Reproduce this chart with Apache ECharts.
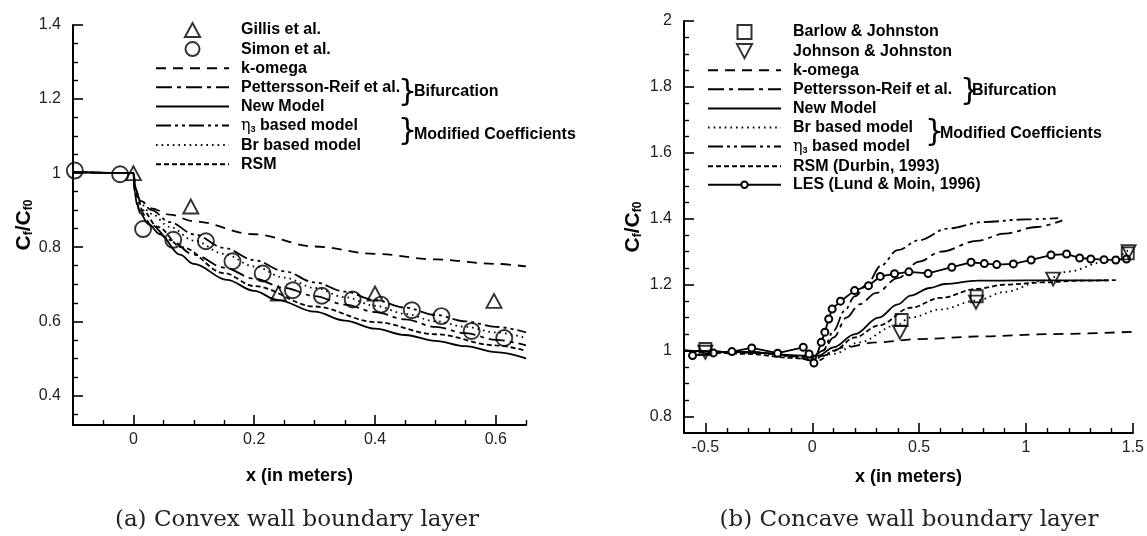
<!DOCTYPE html>
<html>
<head>
<meta charset="utf-8">
<script src="https://cdn.jsdelivr.net/npm/echarts@6/dist/echarts.min.js"></script>
<style>
  html, body { margin: 0; padding: 0; background: #fff; }
  #chart { width: 1147px; height: 536px; }
</style>
</head>
<body>
<div id="chart"></div>
<script>
// ---------- (a) convex wall: skin friction ratio vs x ----------
const convexGillis = [[0, 1.0], [0.095, 0.91], [0.24, 0.675], [0.4, 0.675], [0.597, 0.655]];
const convexSimon = [[-0.097, 1.007], [-0.022, 0.997], [0.016, 0.849], [0.066, 0.82], [0.12, 0.816],
  [0.164, 0.762], [0.214, 0.729], [0.264, 0.684], [0.312, 0.669], [0.363, 0.659], [0.41, 0.645],
  [0.461, 0.63], [0.51, 0.614], [0.56, 0.574], [0.614, 0.555]];
const convexKOmega = [[-0.1, 1.003], [0, 1.0], [0.003, 0.95], [0.012, 0.925], [0.03, 0.905], [0.06, 0.888],
  [0.1, 0.87], [0.2, 0.835], [0.3, 0.802], [0.4, 0.782], [0.5, 0.767], [0.6, 0.755], [0.65, 0.748]];
const convexPR = [[-0.1, 1.003], [0, 1.0], [0.003, 0.95], [0.01, 0.9], [0.03, 0.86], [0.06, 0.82],
  [0.1, 0.78], [0.15, 0.745], [0.2, 0.715], [0.25, 0.69], [0.3, 0.668], [0.35, 0.645], [0.4, 0.625],
  [0.45, 0.605], [0.5, 0.585], [0.55, 0.568], [0.6, 0.55], [0.65, 0.535]];
const convexNew = [[-0.1, 1.003], [0, 1.0], [0.002, 0.95], [0.006, 0.915], [0.011, 0.892], [0.025, 0.862],
  [0.044, 0.835], [0.077, 0.78], [0.1, 0.755], [0.155, 0.712], [0.2, 0.682], [0.238, 0.658],
  [0.3, 0.626], [0.35, 0.602], [0.4, 0.58], [0.45, 0.563], [0.5, 0.547], [0.55, 0.533], [0.6, 0.517], [0.65, 0.5]];
const convexEta = [[-0.1, 1.003], [0, 1.0], [0.003, 0.96], [0.01, 0.93], [0.03, 0.9], [0.06, 0.868],
  [0.1, 0.835], [0.15, 0.798], [0.2, 0.765], [0.25, 0.735], [0.3, 0.705], [0.35, 0.68], [0.4, 0.657],
  [0.45, 0.637], [0.5, 0.617], [0.55, 0.6], [0.6, 0.585], [0.65, 0.57]];
const convexBr = [[-0.1, 1.003], [0, 1.0], [0.003, 0.96], [0.01, 0.92], [0.03, 0.89], [0.06, 0.855],
  [0.1, 0.818], [0.15, 0.782], [0.2, 0.748], [0.25, 0.718], [0.3, 0.69], [0.35, 0.665], [0.4, 0.642],
  [0.45, 0.62], [0.5, 0.6], [0.55, 0.585], [0.6, 0.57], [0.65, 0.555]];
const convexRSM = [[-0.1, 1.003], [0, 1.0], [0.005, 0.95], [0.015, 0.9], [0.04, 0.855], [0.08, 0.8],
  [0.15, 0.73], [0.2, 0.695], [0.3, 0.64], [0.4, 0.598], [0.5, 0.565], [0.6, 0.535], [0.65, 0.52]];

// ---------- (b) concave wall ----------
const concaveBarlow = [[-0.5, 1.005], [0.418, 1.093], [0.769, 1.165], [1.476, 1.295]];
const concaveJohnson = [[-0.5, 0.995], [0.41, 1.056], [0.766, 1.147], [1.127, 1.217], [1.48, 1.3]];
const concaveKOmega = [[-0.6, 1.0], [-0.3, 0.995], [-0.1, 0.985], [0, 0.97], [0.05, 0.985], [0.15, 1.01],
  [0.3, 1.025], [0.5, 1.035], [0.8, 1.043], [1.1, 1.05], [1.5, 1.057]];
const concavePR = [[-0.6, 1.0], [-0.3, 0.995], [0, 0.98], [0.05, 1.0], [0.1, 1.04], [0.16, 1.1],
  [0.22, 1.14], [0.3, 1.175], [0.4, 1.22], [0.5, 1.27], [0.6, 1.3], [0.77, 1.333], [0.9, 1.355],
  [1.05, 1.375], [1.17, 1.395]];
const concaveNew = [[-0.6, 1.0], [-0.3, 0.995], [-0.05, 0.985], [0.03, 0.985], [0.1, 1.01], [0.2, 1.05],
  [0.31, 1.1], [0.4, 1.14], [0.46, 1.167], [0.55, 1.19], [0.62, 1.202], [0.77, 1.212], [1.0, 1.213], [1.38, 1.213]];
const concaveBr = [[-0.6, 1.0], [-0.3, 0.995], [0, 0.975], [0.1, 0.99], [0.22, 1.025], [0.39, 1.076],
  [0.46, 1.1], [0.6, 1.125], [0.77, 1.152], [0.9, 1.178], [1.08, 1.212], [1.2, 1.24], [1.36, 1.268], [1.49, 1.31]];
const concaveEta = [[-0.6, 1.0], [-0.3, 0.995], [0, 0.98], [0.05, 1.0], [0.1, 1.06], [0.15, 1.12],
  [0.2, 1.165], [0.26, 1.205], [0.32, 1.257], [0.4, 1.305], [0.5, 1.335], [0.63, 1.37], [0.8, 1.39],
  [1.0, 1.398], [1.15, 1.402]];
const concaveRSM = [[-0.6, 1.0], [-0.3, 0.99], [-0.1, 0.978], [0.03, 0.97], [0.1, 1.0], [0.2, 1.04],
  [0.31, 1.076], [0.46, 1.13], [0.6, 1.16], [0.77, 1.187], [0.9, 1.2], [1.08, 1.207], [1.25, 1.212], [1.42, 1.214]];
const concaveLES = [[-0.56, 0.985], [-0.463, 0.993], [-0.376, 0.997], [-0.283, 1.008], [-0.162, 0.992],
  [-0.042, 1.01], [-0.015, 0.99], [0.008, 0.962], [0.042, 1.025], [0.059, 1.056], [0.077, 1.096],
  [0.093, 1.126], [0.132, 1.15], [0.198, 1.182], [0.263, 1.197], [0.318, 1.225], [0.385, 1.233],
  [0.452, 1.239], [0.542, 1.234], [0.653, 1.253], [0.743, 1.268], [0.805, 1.264], [0.863, 1.261],
  [0.941, 1.263], [1.024, 1.275], [1.117, 1.29], [1.19, 1.293], [1.251, 1.281], [1.303, 1.278],
  [1.365, 1.276], [1.42, 1.275], [1.47, 1.278]];

// ---------- axis ticks ----------
const convexXTicks = [0, 0.2, 0.4, 0.6];
const convexYTicks = [0.4, 0.6, 0.8, 1, 1.2, 1.4];
const concaveXTicks = [-0.5, 0, 0.5, 1, 1.5];
const concaveYTicks = [0.8, 1, 1.2, 1.4, 1.6, 1.8, 2];

const ETA = 'η3 based model';

function minorTicks(from, to, step, majors) {
  const out = [];
  const n = Math.round((to - from) / step);
  for (let i = 0; i <= n; i++) {
    const v = Math.round((from + i * step) * 1000) / 1000;
    if (!majors.some(m => Math.abs(m - v) < 1e-6)) out.push(v);
  }
  return out;
}

const FONT = 'Liberation Sans, Arial, sans-serif';
const BLACK = '#000';
const LW = 1.8;

const dash = {
  komega: [10, 7],
  pr: [16, 5, 4, 5],
  eta: [15, 4, 3, 4, 3, 4],
  br: [1.6, 4],
  rsm: [5, 3]
};

// open marker outlines
const SYM_UP = 'path://M7,0 L14,13 L0,13 Z';
const SYM_DOWN = 'path://M0,0 L14,0 L7,13 Z';
const SYM_SQUARE = 'path://M0,0 L12,0 L12,12 L0,12 Z';

function lineSeries(name, data, axis, type, extra) {
  return Object.assign({
    type: 'line', name, data,
    xAxisIndex: axis, yAxisIndex: axis,
    showSymbol: false, symbol: 'none',
    smooth: 0.35, smoothMonotone: 'x',
    lineStyle: { color: BLACK, width: LW, type: type },
    itemStyle: { color: BLACK },
    z: 2
  }, extra || {});
}

function markerSeries(name, data, axis, symbol, size, extra) {
  return Object.assign({
    type: 'scatter', name, data,
    xAxisIndex: axis, yAxisIndex: axis,
    symbol, symbolSize: size, symbolKeepAspect: true,
    itemStyle: { color: 'rgba(255,255,255,0)', borderColor: BLACK, borderWidth: 1.9 },
    z: 5
  }, extra || {});
}

function mainXAxis(grid, min, max, ticks) {
  return {
    type: 'value', gridIndex: grid, min, max, position: 'bottom',
    axisLine: { show: true, onZero: false, lineStyle: { color: BLACK, width: 2 } },
    axisTick: { show: true, inside: true, length: 10, customValues: ticks, lineStyle: { color: BLACK, width: 1.6 } },
    axisLabel: { customValues: ticks, color: '#222', fontFamily: FONT, fontSize: 16, margin: 7 },
    splitLine: { show: false },
    name: 'x (in meters)', nameLocation: 'middle',
    nameTextStyle: { color: BLACK, fontFamily: FONT, fontWeight: 'bold', fontSize: 18 }
  };
}
function minorXAxis(grid, min, max, ticks) {
  return {
    type: 'value', gridIndex: grid, min, max, position: 'bottom',
    axisLine: { show: false, onZero: false },
    axisTick: { show: true, inside: true, length: 5, customValues: ticks, lineStyle: { color: BLACK, width: 1.4 } },
    axisLabel: { show: false }, splitLine: { show: false }
  };
}
const yName = '{c|C}{s|f}{c|/C}{s|f0}';
const yNameStyle = {
  color: BLACK, fontFamily: FONT, fontWeight: 'bold',
  rich: {
    c: { fontFamily: FONT, fontWeight: 'bold', fontSize: 21, color: BLACK },
    s: { fontFamily: FONT, fontWeight: 'bold', fontSize: 12, color: BLACK, padding: [10, 0, 0, 0] }
  }
};
function mainYAxis(grid, min, max, ticks) {
  return {
    type: 'value', gridIndex: grid, min, max, position: 'left',
    axisLine: { show: true, onZero: false, lineStyle: { color: BLACK, width: 2 } },
    axisTick: { show: true, inside: true, length: 10, customValues: ticks, lineStyle: { color: BLACK, width: 1.6 } },
    axisLabel: { customValues: ticks, color: '#222', fontFamily: FONT, fontSize: 16, margin: 12,
      formatter: v => String(Math.round(v * 100) / 100) },
    splitLine: { show: false },
    name: yName, nameLocation: 'middle', nameRotate: 90, nameTextStyle: yNameStyle
  };
}
function minorYAxis(grid, min, max, ticks) {
  return {
    type: 'value', gridIndex: grid, min, max, position: 'left',
    axisLine: { show: false, onZero: false },
    axisTick: { show: true, inside: true, length: 5, customValues: ticks, lineStyle: { color: BLACK, width: 1.4 } },
    axisLabel: { show: false }, splitLine: { show: false }
  };
}

const legendText = {
  color: BLACK, fontFamily: FONT, fontWeight: 'bold', fontSize: 16, lineHeight: 16,
  padding: [0, 0, 0, 7],
  rich: {
    e: { fontFamily: 'DejaVu Serif, serif', fontSize: 16, fontWeight: 'normal', color: BLACK },
    s: { fontFamily: FONT, fontSize: 9, color: BLACK, padding: [8, 0, 0, 0] },
    b: { fontFamily: FONT, fontWeight: 'bold', fontSize: 16, color: BLACK }
  }
};
function legendFormatter(name) {
  return name === ETA ? '{e|η}{s|3}{b| based model}' : name;
}
// marker entries keep their symbol; line entries show only the stroke pattern
const MARKER_NAMES = ['Gillis et al.', 'Simon et al.', 'Barlow & Johnston', 'Johnson & Johnston', 'LES (Lund & Moin, 1996)'];
function legend(left, top, names, itemHeight) {
  return {
    left, top, orient: 'vertical', padding: 0,
    data: names.map(n => MARKER_NAMES.indexOf(n) >= 0 ? n :
      { name: n, itemStyle: { opacity: 0, color: 'rgba(0,0,0,0)', borderColor: 'rgba(0,0,0,0)', borderWidth: 0 } }),
    itemWidth: 73, itemHeight: itemHeight || 14, itemGap: 3.1,
    selectedMode: false,
    textStyle: legendText, formatter: legendFormatter
  };
}

const chart = echarts.init(document.getElementById('chart'), null, { renderer: 'canvas' });

const xa0 = mainXAxis(0, -0.1, 0.65, convexXTicks); xa0.nameGap = 42;
const xa2 = mainXAxis(1, -0.6, 1.5, concaveXTicks); xa2.nameGap = 35;
const ya0 = mainYAxis(0, 0.32, 1.4, convexYTicks); ya0.nameGap = 38;
const ya2 = mainYAxis(1, 0.75, 2, concaveYTicks); ya2.nameGap = 40;

const braceStyle = { fill: BLACK, fontFamily: 'DejaVu Sans, sans-serif', fontSize: 30, fontWeight: 'normal' };
const groupStyle = { fill: BLACK, fontFamily: FONT, fontWeight: 'bold', fontSize: 16 };
const captionStyle = { fill: '#222', fontFamily: 'DejaVu Serif, serif', fontSize: 23, align: 'center', verticalAlign: 'middle' };

const LEG_TOP_L = 22;
const LEG_TOP_R = 24;
const ROW = 19.1;

chart.setOption({
  animation: false,
  backgroundColor: '#fff',
  grid: [
    { left: 73, top: 25, width: 453, height: 400 },
    { left: 684, top: 21, width: 453, height: 412 }
  ],
  xAxis: [xa0, minorXAxis(0, -0.1, 0.65, minorTicks(-0.1, 0.65, 0.05, convexXTicks.concat([-0.1]))),
          xa2, minorXAxis(1, -0.6, 1.5, minorTicks(-0.6, 1.5, 0.1, concaveXTicks.concat([-0.6])))],
  yAxis: [ya0, minorYAxis(0, 0.32, 1.4, minorTicks(0.35, 1.4, 0.05, convexYTicks)),
          ya2, minorYAxis(1, 0.75, 2, minorTicks(0.75, 2, 0.05, concaveYTicks.concat([0.75])))],
  legend: [
    legend(155, LEG_TOP_L, ['Gillis et al.', 'Simon et al.', 'k-omega', 'Pettersson-Reif et al.', 'New Model', ETA, 'Br based model', 'RSM']),
    legend(707, LEG_TOP_R, ['Barlow & Johnston', 'Johnson & Johnston', 'k-omega', 'Pettersson-Reif et al.', 'New Model', 'Br based model', ETA, 'RSM (Durbin, 1993)']),
    legend(707, LEG_TOP_R + 8 * ROW, ['LES (Lund & Moin, 1996)'], 8)
  ],
  graphic: [
    { type: 'text', left: 398, top: 78, style: Object.assign({ text: '}' }, braceStyle) },
    { type: 'text', left: 414, top: 84, style: Object.assign({ text: 'Bifurcation' }, groupStyle) },
    { type: 'text', left: 398, top: 117, style: Object.assign({ text: '}' }, braceStyle) },
    { type: 'text', left: 414, top: 127, style: Object.assign({ text: 'Modified Coefficients' }, groupStyle) },
    { type: 'text', left: 960, top: 77, style: Object.assign({ text: '}' }, braceStyle) },
    { type: 'text', left: 972, top: 83, style: Object.assign({ text: 'Bifurcation' }, groupStyle) },
    { type: 'text', left: 925, top: 118, style: Object.assign({ text: '}' }, braceStyle) },
    { type: 'text', left: 940, top: 126, style: Object.assign({ text: 'Modified Coefficients' }, groupStyle) },
    { type: 'text', x: 297, y: 520, style: Object.assign({ text: '(a) Convex wall boundary layer' }, captionStyle) },
    { type: 'text', x: 909, y: 520, style: Object.assign({ text: '(b) Concave wall boundary layer' }, captionStyle) }
  ],
  series: [
    lineSeries('k-omega', convexKOmega, 0, dash.komega),
    lineSeries('Pettersson-Reif et al.', convexPR, 0, dash.pr),
    lineSeries('New Model', convexNew, 0, 'solid'),
    lineSeries(ETA, convexEta, 0, dash.eta),
    lineSeries('Br based model', convexBr, 0, dash.br),
    lineSeries('RSM', convexRSM, 0, dash.rsm),
    markerSeries('Gillis et al.', convexGillis, 0, SYM_UP, 15),
    markerSeries('Simon et al.', convexSimon, 0, 'circle', 16),

    lineSeries('k-omega', concaveKOmega, 2, dash.komega),
    lineSeries('Pettersson-Reif et al.', concavePR, 2, dash.pr),
    lineSeries('New Model', concaveNew, 2, 'solid'),
    lineSeries('Br based model', concaveBr, 2, dash.br),
    lineSeries(ETA, concaveEta, 2, dash.eta),
    lineSeries('RSM (Durbin, 1993)', concaveRSM, 2, dash.rsm),
    lineSeries('LES (Lund & Moin, 1996)', concaveLES, 2, 'solid', {
      smooth: false, showSymbol: true, symbol: 'circle', symbolSize: 7,
      itemStyle: { color: '#fff', borderColor: BLACK, borderWidth: 2 }, z: 3
    }),
    markerSeries('Barlow & Johnston', concaveBarlow, 2, SYM_SQUARE, 12),
    markerSeries('Johnson & Johnston', concaveJohnson, 2, SYM_DOWN, 14)
  ]
});
</script>
</body>
</html>
